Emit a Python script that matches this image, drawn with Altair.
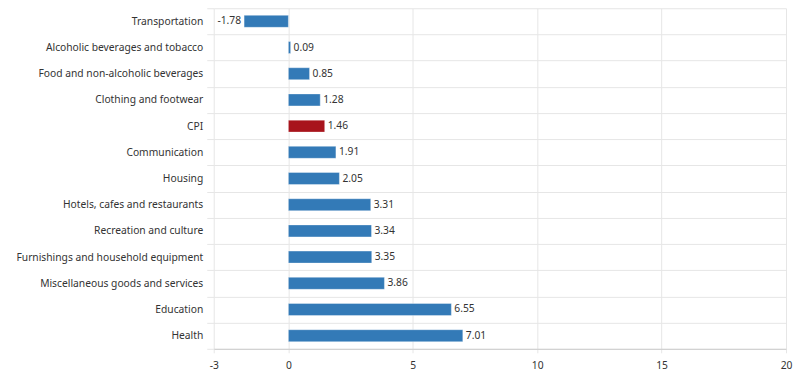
import altair as alt
import pandas as pd

categories = ["Transportation", "Alcoholic beverages and tobacco", "Food and non-alcoholic beverages",
              "Clothing and footwear", "CPI", "Communication", "Housing",
              "Hotels, cafes and restaurants", "Recreation and culture",
              "Furnishings and household equipment", "Miscellaneous goods and services",
              "Education", "Health"]
values = [-1.78, 0.09, 0.85, 1.28, 1.46, 1.91, 2.05, 3.31, 3.34, 3.35, 3.86, 6.55, 7.01]
x_ticks = [-3, 0, 5, 10, 15, 20]

df = pd.DataFrame({"category": categories, "value": values,
                   "label": [f"{v:.2f}" for v in values],
                   "kind": ["CPI" if c == "CPI" else "other" for c in categories]})

FONT = "Noto Sans"
FS = 10.3
y_enc = alt.Y("category:N", sort=categories, title=None,
              scale=alt.Scale(paddingInner=0, paddingOuter=0),
              axis=alt.Axis(tickBand="extent", grid=True, gridColor="#e6e6e6", ticks=True,
                            tickColor="#e6e6e6", tickSize=7, domain=False, labelPadding=4,
                            labelFont=FONT, labelFontSize=FS, labelColor="#333333",
                            labelLimit=300, minExtent=206, maxExtent=206))
x_enc = alt.X("value:Q", title=None, scale=alt.Scale(domain=[-3, 20], nice=False, zero=False),
              axis=alt.Axis(values=x_ticks, grid=True, gridColor="#e6e6e6", domainColor="#cccccc",
                            tickColor="#e6e6e6", tickSize=4, labelPadding=8, labelFlush=False,
                            labelExpr="'' + datum.value",
                            labelFont=FONT, labelFontSize=FS, labelColor="#333333"))

base = alt.Chart(df)
bars = base.mark_bar(size=12, stroke="#ffffff", strokeOpacity=0.35, strokeWidth=1).encode(
    y=y_enc, x=x_enc, x2=alt.datum(0),
    color=alt.Color("kind:N", scale=alt.Scale(domain=["CPI", "other"], range=["#a8141c", "#337ab7"]),
                    legend=None))
pos = base.transform_filter("datum.value >= 0").mark_text(
    align="left", dx=3, font=FONT, fontSize=FS, color="#333333").encode(
    y=alt.Y("category:N", sort=categories), x="value:Q", text="label:N")
neg = base.transform_filter("datum.value < 0").mark_text(
    align="right", dx=-3, font=FONT, fontSize=FS, color="#333333").encode(
    y=alt.Y("category:N", sort=categories), x="value:Q", text="label:N")

chart = alt.layer(bars, pos, neg).properties(
    width=573, height=341, padding={"top": -5, "left": 0, "right": 5, "bottom": 0}
).configure_view(stroke=None)
chart.save("out.html", embed_options={"renderer": "svg", "actions": False})
